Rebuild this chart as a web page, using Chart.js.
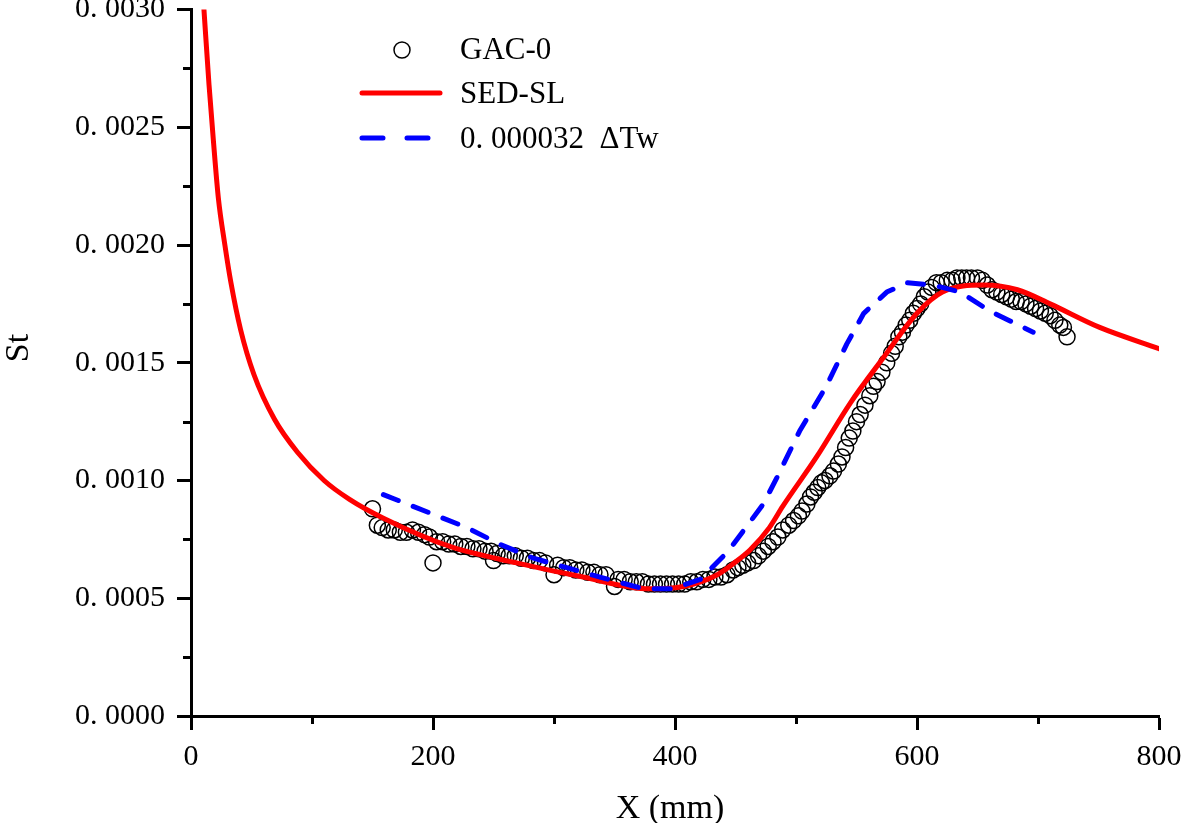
<!DOCTYPE html>
<html><head><meta charset="utf-8">
<script src="https://cdn.jsdelivr.net/npm/chart.js@4.4.1/dist/chart.umd.min.js"></script>
<style>html,body{margin:0;padding:0;background:#fff;overflow:hidden;}#wrap{width:1181px;height:823px;}</style>
</head><body><div id="wrap"><canvas id="c" width="1181" height="823"></canvas></div>
<script>
// ---------- data ----------
const seriesNames = ['GAC-0', 'SED-SL', '0. 000032  \u0394Tw'];
const xTitle = 'X (mm)';
const yTitle = 'St';
const xTickValues = [0, 200, 400, 600, 800];
const xTickLabels = ['0', '200', '400', '600', '800'];
const yTickValues = [0, 0.0005, 0.0010, 0.0015, 0.0020, 0.0025, 0.0030];
const yTickLabels = ['0. 0000', '0. 0005', '0. 0010', '0. 0015', '0. 0020', '0. 0025', '0. 0030'];
const xMinorTicks = [100, 300, 500, 700];
const yMinorTicks = [0.00025, 0.00075, 0.00125, 0.00175, 0.00225, 0.00275];

const gacX = [150,154,158,163,168,173,178,183,188,193,197,200,203,208,213,218,223,228,233,238,
  243,248,250,253,258,263,268,273,278,283,288,293,300,303,308,313,318,323,328,333,
  338,343,350,353,358,363,368,373,378,383,388,393,398,403,408,413,418,423,428,433,
  438,443,448,452,456,460,465,469,473,477,481,485,489,494,498,502,505,509,512,515,
  518,521,524,528,531,535,538,541,544,547,550,553,557,561,564,567,571,575,579,582,
  585,588,591,594,597,600,603,606,609,612,616,620,625,629,633,637,641,645,650,654,
  658,662,666,670,674,678,682,686,690,694,698,702,706,710,714,718,721,724];
const gacY = [0.00088,0.00081,0.00080,0.00079,0.00079,0.00078,0.00078,0.00079,0.00078,0.00077,
  0.00076,0.00065,0.00074,0.00074,0.00073,0.00073,0.00072,0.00072,0.00071,0.00071,
  0.00070,0.00070,0.00066,0.00069,0.00068,0.00068,0.00068,0.00067,0.00067,0.00066,
  0.00066,0.00065,0.00060,0.00064,0.00063,0.00063,0.00062,0.00062,0.00061,0.00061,
  0.00060,0.00060,0.00055,0.00058,0.00058,0.00057,0.00057,0.00057,0.00056,0.00056,
  0.00056,0.00056,0.00056,0.00056,0.00056,0.00057,0.00057,0.00058,0.00058,0.00059,
  0.00059,0.00060,0.00062,0.00063,0.00064,0.00065,0.00066,0.00068,0.00070,0.00072,
  0.00074,0.00076,0.00079,0.00081,0.00083,0.00085,0.00087,0.00090,0.00093,0.00095,
  0.00097,0.00099,0.00100,0.00102,0.00104,0.00107,0.00110,0.00114,0.00118,0.00121,
  0.00125,0.00128,0.00132,0.00136,0.00140,0.00142,0.00146,0.00150,0.00154,0.00157,
  0.00161,0.00163,0.00166,0.00168,0.00171,0.00173,0.00175,0.00178,0.00180,0.00182,
  0.00184,0.00184,0.00185,0.00185,0.00186,0.00186,0.00186,0.00186,0.00186,0.00185,
  0.00183,0.00181,0.00180,0.00179,0.00178,0.00177,0.00176,0.00176,0.00175,0.00174,
  0.00173,0.00172,0.00171,0.00170,0.00168,0.00166,0.00165,0.00161];

const sedX = [10.7, 14.9, 18.4, 22.6, 28, 33, 41, 52, 69, 88, 110, 131, 159, 214, 269, 324, 379,
  407, 435, 454, 462, 478, 489, 517, 545, 572, 600, 621, 655, 683, 710, 751, 800];
const sedY = [0.00300, 0.00268, 0.00245, 0.00220, 0.00200, 0.00184, 0.00164, 0.00145, 0.00126,
  0.00112, 0.00100, 0.00092, 0.00084, 0.00072, 0.00065, 0.00059, 0.00054, 0.00055, 0.00060,
  0.00067, 0.000705, 0.00080, 0.00089, 0.00110, 0.00133, 0.00152, 0.00171, 0.00180, 0.00183,
  0.00181, 0.00175, 0.00165, 0.00156];

const dtwX = [159, 228, 255, 283, 338, 374, 398, 421, 444, 473, 484, 503, 525, 542, 556, 575,
  592, 613, 636, 660, 696];
const dtwY = [0.00094, 0.00080, 0.00073, 0.00067, 0.00059, 0.00054, 0.00054, 0.00058, 0.00070,
  0.00090, 0.00101, 0.00121, 0.00140, 0.00158, 0.00171, 0.00180, 0.00184, 0.00183, 0.00180,
  0.00172, 0.00163];

// ---------- build ----------
const pts = (xs, ys) => xs.map((x, i) => ({x: x, y: ys[i]}));
const FONT = '"Liberation Serif", "DejaVu Serif", serif';

const minorTickPlugin = {
  id: 'minorTicks',
  afterDraw(chart) {
    const ctx = chart.ctx, xs = chart.scales.x, ys = chart.scales.y;
    const ca = chart.chartArea;
    ctx.save();
    ctx.strokeStyle = '#000';
    ctx.lineWidth = 3;
    ctx.beginPath();
    xMinorTicks.forEach(v => {
      const px = Math.round(xs.getPixelForValue(v)) + 0.5;
      ctx.moveTo(px, ca.bottom); ctx.lineTo(px, ca.bottom + 8);
    });
    yMinorTicks.forEach(v => {
      const py = Math.round(ys.getPixelForValue(v)) + 0.5;
      ctx.moveTo(ca.left, py); ctx.lineTo(ca.left - 8, py);
    });
    ctx.stroke();
    // axis titles
    ctx.fillStyle = '#000';
    ctx.font = '34px ' + FONT;
    ctx.textAlign = 'center';
    ctx.textBaseline = 'alphabetic';
    ctx.fillText(xTitle, 670, 818);
    ctx.save();
    ctx.translate(28, 348);
    ctx.rotate(-Math.PI / 2);
    ctx.fillText(yTitle, 0, 0);
    ctx.restore();
    // legend
    ctx.textAlign = 'left';
    ctx.textBaseline = 'middle';
    ctx.font = '31px ' + FONT;
    const ds = chart.data.datasets;
    ctx.beginPath();
    ctx.lineWidth = 1.5;
    ctx.strokeStyle = ds[0].borderColor;
    ctx.arc(402, 50, 8, 0, Math.PI * 2);
    ctx.stroke();
    ctx.fillText(ds[0].label, 460, 51);
    ctx.beginPath();
    ctx.lineWidth = 5; ctx.lineCap = 'round';
    ctx.strokeStyle = ds[1].borderColor;
    ctx.moveTo(362, 93); ctx.lineTo(440, 93);
    ctx.stroke();
    ctx.fillText(ds[1].label, 460, 95);
    ctx.beginPath();
    ctx.strokeStyle = ds[2].borderColor;
    ctx.moveTo(362, 138); ctx.lineTo(383, 138);
    ctx.moveTo(407, 138); ctx.lineTo(428, 138);
    ctx.stroke();
    ctx.fillText(ds[2].label, 460, 140);
    ctx.restore();
  }
};

new Chart(document.getElementById('c'), {
  type: 'scatter',
  data: {
    datasets: [
      { label: seriesNames[0], data: pts(gacX, gacY), showLine: false,
        pointStyle: 'circle', pointRadius: 8, pointBorderWidth: 1.5,
        borderColor: '#000', backgroundColor: 'rgba(0,0,0,0)', pointBackgroundColor: 'rgba(0,0,0,0)',
        order: 3 },
      { label: seriesNames[1], data: pts(sedX, sedY), showLine: true, pointRadius: 0,
        borderColor: '#ff0000', borderWidth: 5, cubicInterpolationMode: 'monotone',
        borderCapStyle: 'round', borderJoinStyle: 'round', order: 2 },
      { label: seriesNames[2], data: pts(dtwX, dtwY), showLine: true, pointRadius: 0,
        borderColor: '#0000ff', borderWidth: 5, borderDash: [16, 16], tension: 0,
        borderCapStyle: 'round', borderJoinStyle: 'round', order: 1 }
    ]
  },
  options: {
    responsive: false,
    animation: false,
    devicePixelRatio: 1,
    layout: { padding: { top: 9, right: 22, left: 0, bottom: 0 } },
    plugins: { legend: { display: false }, tooltip: { enabled: false } },
    scales: {
      x: {
        type: 'linear', min: 0, max: 800,
        afterBuildTicks: s => { s.ticks = xTickValues.map(v => ({value: v})); },
        afterFit: s => { s.height = 107; s.paddingLeft = 0; s.paddingRight = 0; },
        ticks: {
          padding: 9, color: '#000', maxRotation: 0, autoSkip: false,
          font: { family: FONT, size: 30 },
          callback: (v, i) => xTickLabels[i]
        },
        grid: { drawOnChartArea: false, drawTicks: true, tickLength: 14, tickWidth: 3, color: '#000' },
        border: { display: true, color: '#000', width: 3 }
      },
      y: {
        type: 'linear', min: 0, max: 0.003,
        afterBuildTicks: s => { s.ticks = yTickValues.map(v => ({value: v})); },
        afterFit: s => { s.width = 191; s.paddingTop = 0; s.paddingBottom = 0; },
        ticks: {
          padding: 12, color: '#000', autoSkip: false,
          font: { family: FONT, size: 30 },
          callback: (v, i) => yTickLabels[i]
        },
        grid: { drawOnChartArea: false, drawTicks: true, tickLength: 14, tickWidth: 3, color: '#000' },
        border: { display: true, color: '#000', width: 3 }
      }
    }
  },
  plugins: [minorTickPlugin]
});
</script></body></html>
